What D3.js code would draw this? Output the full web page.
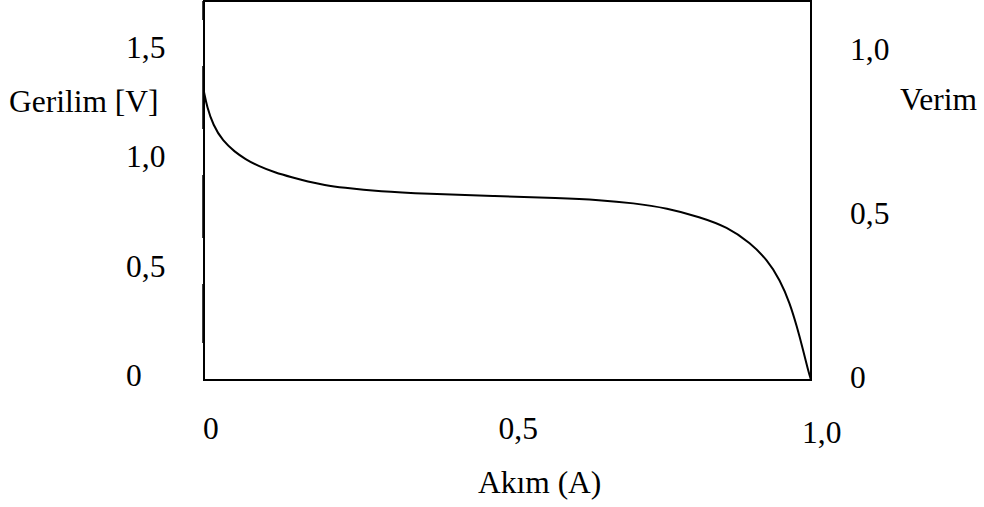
<!DOCTYPE html>
<html>
<head>
<meta charset="utf-8">
<script src="https://cdn.jsdelivr.net/npm/d3@7"></script>
<style>
  html, body { margin: 0; padding: 0; background: #fff; }
  text { font-family: "Liberation Serif", "Times New Roman", serif; font-size: 31.5px; fill: #000; }
</style>
</head>
<body>
<div id="chart"></div>
<script>
// akim (A) ve gerilim (V) degerleri
var current = [0, 0.005, 0.015, 0.031, 0.051, 0.068, 0.089, 0.117, 0.145, 0.171, 0.199, 0.227, 0.290, 0.367, 0.476, 0.586, 0.652, 0.707, 0.763, 0.817, 0.862, 0.900, 0.928, 0.949, 0.965, 0.977, 0.987, 0.995, 1.0];
var voltage = [1.315, 1.247, 1.164, 1.091, 1.041, 1.009, 0.977, 0.947, 0.925, 0.906, 0.890, 0.879, 0.861, 0.851, 0.840, 0.831, 0.822, 0.808, 0.785, 0.744, 0.699, 0.626, 0.548, 0.457, 0.352, 0.242, 0.137, 0.046, 0];

// eksen etiketleri
var voltTicks = [0, 0.5, 1.0, 1.5];
var effTicks = [0, 0.5, 1.0];
var currentTicks = [0, 0.5, 1.0];
var xTitle = "Akım (A)";
var yTitle = "Gerilim [V]";
var y2Title = "Verim";

function Label(v) {
  if (v == 0) return "0";
  return v.toFixed(1).replace(".", ",");
}

var width = 984;
var height = 507;

var svg = d3.select("#chart")
  .append("svg")
  .attr("width", width)
  .attr("height", height);

// olcekler
var x = d3.scaleLinear().domain([0, 1]).range([204, 811]);
var y = d3.scaleLinear().domain([0, 1.5]).range([380, 51.5]);
var y2 = d3.scaleLinear().domain([0, 1]).range([380, 52]);

// cerceve
svg.append("rect")
  .attr("x", 204)
  .attr("y", 1)
  .attr("width", 607)
  .attr("height", 379)
  .attr("fill", "none")
  .attr("stroke", "#000")
  .attr("stroke-width", 2);

// sol kenar kesikli cizgi
svg.append("line")
  .attr("x1", 203)
  .attr("y1", 1)
  .attr("x2", 203)
  .attr("y2", 343)
  .attr("stroke", "#000")
  .attr("stroke-width", 1.5)
  .attr("stroke-dasharray", "63,46")
  .attr("stroke-dashoffset", 44);

// egri
var points = current.map(function(c, i) { return [c, voltage[i]]; });
var line = d3.line()
  .x(function(d) { return x(d[0]); })
  .y(function(d) { return y(d[1]); })
  .curve(d3.curveBasis);

svg.append("path")
  .datum(points)
  .attr("d", line)
  .attr("fill", "none")
  .attr("stroke", "#000")
  .attr("stroke-width", 2);

// sol etiketler
svg.append("g").selectAll("text")
  .data(voltTicks)
  .enter()
  .append("text")
  .attr("x", 126)
  .attr("y", function(d) { return y(d) + 6; })
  .text(Label);

svg.append("text")
  .attr("x", 9)
  .attr("y", 112)
  .text(yTitle);

// sag etiketler
svg.append("g").selectAll("text")
  .data(effTicks)
  .enter()
  .append("text")
  .attr("x", 850)
  .attr("y", function(d) { return y2(d) + 8; })
  .text(Label);

svg.append("text")
  .attr("x", 900)
  .attr("y", 110)
  .text(y2Title);

// alt etiketler
svg.append("g").selectAll("text")
  .data(currentTicks)
  .enter()
  .append("text")
  .attr("x", function(d, i) { return x(d) + (i == 0 ? -1 : -9); })
  .attr("y", function(d, i) { return i == currentTicks.length - 1 ? 443 : 439; })
  .text(Label);

svg.append("text")
  .attr("x", 478)
  .attr("y", 493)
  .text(xTitle);
</script>
</body>
</html>
